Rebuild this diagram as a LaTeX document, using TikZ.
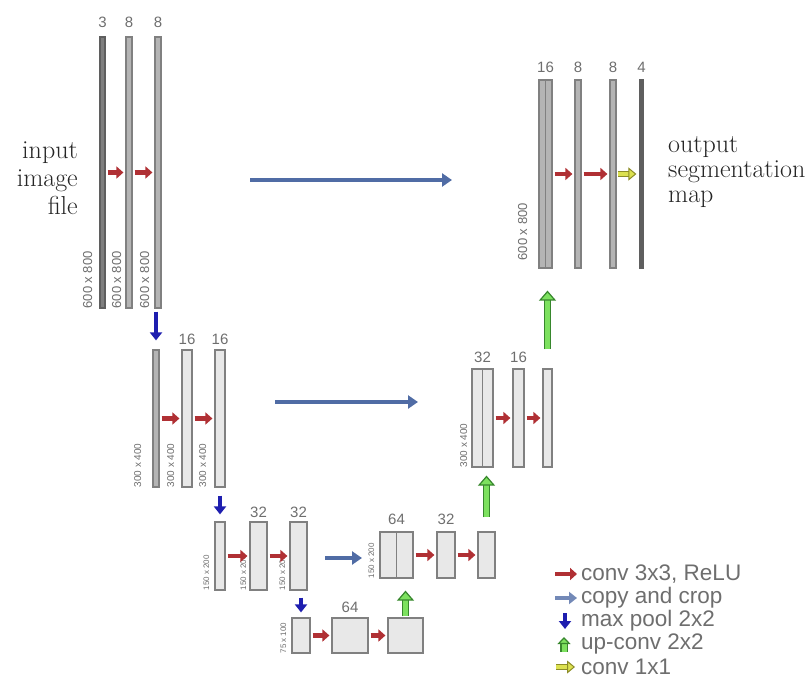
\documentclass[tikz,border=0pt]{standalone}
\usepackage{fontspec}
\setsansfont{Liberation Sans}
\usetikzlibrary{arrows.meta,positioning,calc}

\definecolor{convred}{RGB}{176,48,52}
\definecolor{copyblue}{RGB}{80,108,165}
\definecolor{poolblue}{RGB}{30,30,175}
\definecolor{upgreen}{RGB}{125,225,95}
\definecolor{upgreendk}{RGB}{55,135,45}
\definecolor{oneyel}{RGB}{220,225,80}
\definecolor{oneyeldk}{RGB}{140,140,40}
\definecolor{barfill}{RGB}{232,232,232}
\definecolor{barmid}{RGB}{180,180,180}
\definecolor{barline}{RGB}{128,128,128}
\definecolor{darkbar}{RGB}{95,95,95}
\definecolor{txtgray}{RGB}{110,110,110}

\tikzset{
  bar/.style 2 args={draw=barline, fill=barfill, line width=1.2pt, inner sep=0pt,
    minimum width=#1, minimum height=#2},
  thinbar/.style={fill=barmid},
  num/.style={font=\sffamily\fontsize{15}{15}\selectfont, text=txtgray, inner sep=0pt},
  sz/.style={font=\sffamily\fontsize{#1}{#1}\selectfont, text=txtgray, inner sep=0pt,
    rotate=90, anchor=south west},
  conv/.style={convred, line width=4.5pt, -{Triangle[length=7pt,width=12pt]},
    shorten <=2pt, shorten >=2pt},
  copyarr/.style={copyblue, line width=4.5pt, -{Triangle[length=10pt,width=13pt]}},
  pool/.style={poolblue, line width=4.5pt, -{Triangle[length=8pt,width=12pt]}},
  upconv/.style={draw=upgreendk, double=upgreen, double distance=5pt, line width=1.2pt,
    -{Triangle[length=10pt,width=17pt,fill=upgreen]}},
  onebyone/.style={draw=oneyeldk, double=oneyel, double distance=3.5pt, line width=1pt,
    -{Triangle[length=8pt,width=13pt,fill=oneyel]}, shorten <=1pt, shorten >=3pt},
  txt/.style={font=\fontsize{26}{28}\selectfont, text=black!85, inner sep=0pt},
  key/.style={font=\sffamily\fontsize{22.5}{22.5}\selectfont, text=txtgray, anchor=west, inner sep=0pt}
}

\begin{document}
\begin{tikzpicture}[x=1pt,y=-1pt]
  \useasboundingbox (0,0) rectangle (811,700);

  % contracting path
  \node[bar={5}{271}, fill=darkbar!80, draw=darkbar] (l11) at (102.5,172.5) {};
  \node[bar={6}{271}, thinbar] (l12) at (129,172.5) {};
  \node[bar={6}{271}, thinbar] (l13) at (158,172.5) {};
  \node[num, above=9pt of l11] {3};
  \node[num, above=9pt of l12] {8};
  \node[num, above=9pt of l13] {8};
  \node[sz=13] at ([xshift=-7pt]l11.south west) {600 x 800};
  \node[sz=13] at ([xshift=-4pt]l12.south west) {600 x 800};
  \node[sz=13] at ([xshift=-5pt]l13.south west) {600 x 800};

  \node[bar={6}{137}, thinbar] (l21) at (156,418.5) {};
  \node[bar={10}{137}] (l22) at (187,418.5) {};
  \node[bar={10}{137}] (l23) at (220,418.5) {};
  \node[num, above=5pt of l22] {16};
  \node[num, above=5pt of l23] {16};
  \node[sz=10] at ([xshift=-11pt]l21.south west) {300 x 400};
  \node[sz=10] at ([xshift=-7pt]l22.south west) {300 x 400};
  \node[sz=10] at ([xshift=-8pt]l23.south west) {300 x 400};

  \node[bar={10}{68}] (l31) at (220,556) {};
  \node[bar={17}{68}] (l32) at (258.5,556) {};
  \node[bar={17}{68}] (l33) at (298.5,556) {};
  \node[num, above=4pt of l32] {32};
  \node[num, above=4pt of l33] {32};
  \node[sz=8] at ([xshift=-5pt]l31.south west) {150 x 200};
  \node[sz=8] at ([xshift=-3pt]l32.south west) {150 x 200};
  \node[sz=8] at ([xshift=-4pt]l33.south west) {150 x 200};

  % bottom
  \node[bar={18}{35}] (b1) at (301,635.5) {};
  \node[bar={36}{35}] (b2) at (350,635.5) {};
  \node[bar={35}{35}] (b3) at (405.5,635.5) {};
  \node[num, above=5pt of b2] {64};
  \node[sz=8] at ([xshift=-5pt]b1.south west) {75 x 100};

  % expanding path
  \node[bar={33}{46}] (r31) at (396.5,555) {};
  \draw[barline, line width=1.2pt] (r31.north) -- (r31.south);
  \node[bar={18}{46}] (r32) at (446,555) {};
  \node[bar={17}{46}] (r33) at (486.5,555) {};
  \node[num, above=7pt of r31] {64};
  \node[num, above=7pt of r32] {32};
  \node[sz=8] at ([xshift=-5pt]r31.south west) {150 x 200};

  \node[bar={21}{98}] (r21) at (482.5,418) {};
  \draw[barline, line width=1.2pt] (r21.north) -- (r21.south);
  \node[bar={11}{98}] (r22) at (518.5,418) {};
  \node[bar={9}{98}] (r23) at (547.5,418) {};
  \node[num, above=6pt of r21] {32};
  \node[num, above=6pt of r22] {16};
  \node[sz=10] at ([xshift=-4pt]r21.south west) {300 x 400};

  \node[bar={13}{188}, thinbar] (r11) at (545.5,174) {};
  \draw[barline, line width=1.2pt] (r11.north) -- (r11.south);
  \node[bar={6}{188}, thinbar] (r12) at (578,174) {};
  \node[bar={6}{188}, thinbar] (r13) at (613,174) {};
  \node[bar={3}{188}, fill=darkbar, draw=darkbar] (r14) at (641.5,174) {};
  \node[num, above=7pt of r11] {16};
  \node[num, above=7pt of r12] {8};
  \node[num, above=7pt of r13] {8};
  \node[num, above=7pt of r14] {4};
  \node[sz=13] at ([xshift=-11pt,yshift=8pt]r11.south west) {600 x 800};

  % conv 3x3
  \draw[conv] (l11) -- (l12);
  \draw[conv] (l12) -- (l13);
  \draw[conv] (l21) -- (l22);
  \draw[conv] (l22) -- (l23);
  \draw[conv] (l31) -- (l32);
  \draw[conv] (l32) -- (l33);
  \draw[conv] (b1) -- (b2);
  \draw[conv] (b2) -- (b3);
  \draw[conv] (r31) -- (r32);
  \draw[conv] (r32) -- (r33);
  \draw[conv] (r21) -- (r22);
  \draw[conv] (r22) -- (r23);
  \draw[conv] (r11) -- (r12);
  \draw[conv] (r12) -- (r13);
  \draw[onebyone] (r13) -- (r14);

  % max pool
  \draw[pool, shorten <=3pt, shorten >=9pt] (l21.north |- l13.south) -- (l21.north);
  \draw[pool, shorten <=8pt, shorten >=7pt] (l23.south) -- (l31.north);
  \draw[pool, shorten <=7pt, shorten >=5pt] (b1.north |- l33.south) -- (b1.north);

  % up-conv
  \draw[upconv, shorten <=1pt, shorten >=12pt] (b3.north) -- (b3.north |- r31.south);
  \draw[upconv, shorten <=14pt, shorten >=8pt] (r33.north) -- (r33.north |- r21.south);
  \draw[upconv, shorten <=19pt, shorten >=22pt] (r23.north) -- (r23.north |- r11.south);

  % copy and crop
  \coordinate (cp1a) at (250,180);
  \coordinate (cp1b) at (452,180);
  \coordinate (cp2a) at (275,402);
  \coordinate (cp2b) at (418,402);
  \coordinate (cp3a) at (325,558);
  \coordinate (cp3b) at (362,558);
  \draw[copyarr] (cp1a) -- (cp1b);
  \draw[copyarr] (cp2a) -- (cp2b);
  \draw[copyarr] (cp3a) -- (cp3b);

  % texts
  \node[txt, align=right, anchor=east] (inp) at (78,178) {input\\image\\file};
  \node[txt, align=left, anchor=west, font=\fontsize{26}{25}\selectfont] (outp) at (668,172)
    {output\\segmentation\\map};

  % legend
  \node[key] (k1) at (581,574) {conv 3x3, ReLU};
  \node[key] (k2) at (581,598) {copy and crop};
  \node[key] (k3) at (581,621) {max pool 2x2};
  \node[key] (k4) at (581,644) {up-conv 2x2};
  \node[key] (k5) at (581,667) {conv 1x1};
  \draw[conv, shorten <=0pt, shorten >=0pt] ([xshift=-26pt]k1.west) -- ([xshift=-4pt]k1.west);
  \draw[copyblue!80, line width=4.5pt, -{Triangle[length=8pt,width=12pt]}]
    ([xshift=-26pt]k2.west) -- ([xshift=-4pt]k2.west);
  \draw[pool] ([xshift=-16pt,yshift=8pt]k3.west) -- ([xshift=-16pt,yshift=-8pt]k3.west);
  \draw[upconv, -{Triangle[length=7pt,width=13pt,fill=upgreen]}]
    ([xshift=-17pt,yshift=-8pt]k4.west) -- ([xshift=-17pt,yshift=7pt]k4.west);
  \draw[onebyone, shorten <=0pt, shorten >=0pt] ([xshift=-25pt]k5.west) -- ([xshift=-6pt]k5.west);
\end{tikzpicture}
\end{document}
